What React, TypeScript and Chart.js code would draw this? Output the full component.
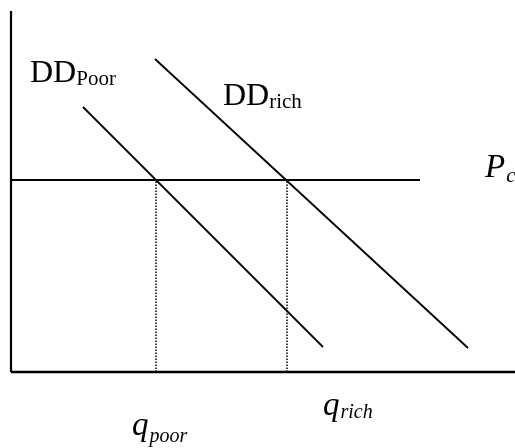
import React, { useEffect, useRef } from "react";
import { Chart, registerables } from "chart.js";

Chart.register(...registerables);

// Quantity (x) and price (y) in chart units, origin at the axes' corner
const axisLimits = { qMax: 504, pMax: 361 };
const priceCeiling = 192; // P_c
const pcLineEnd = 409;
const ddPoorQ = [72, 312];
const ddPoorP = [265, 25];
const ddRichQ = [144, 457];
const ddRichP = [313, 24];
const qPoor = 145;
const qRich = 276;

const labelMain = ["DD", "DD", "P", "q", "q"];
const labelSub = ["Poor", "rich", "c", "poor", "rich"];
const labelQ = [19, 212, 474, 121, 312];
const labelP = [290, 267, 195, -63, -43];

const labelStyle = [
  { italic: false, size: 32, subSize: 21, subDy: 3 },
  { italic: false, size: 32, subSize: 21, subDy: 3 },
  { italic: true, size: 33, subSize: 21, subDy: 5 },
  { italic: true, size: 33, subSize: 20, subDy: 7 },
  { italic: true, size: 33, subSize: 20, subDy: 3 },
];

const pts = (xs: number[], ys: number[]) => xs.map((x, i) => ({ x, y: ys[i] }));

const labelsPlugin = {
  id: "econLabels",
  afterDatasetsDraw(chart: any) {
    const ctx = chart.ctx;
    const xs = chart.scales.x;
    const ys = chart.scales.y;
    ctx.save();
    ctx.fillStyle = "#000";
    ctx.textBaseline = "alphabetic";
    ctx.textAlign = "left";
    labelMain.forEach((m, i) => {
      const st = labelStyle[i];
      const px = xs.getPixelForValue(labelQ[i]);
      const py = ys.getPixelForValue(labelP[i]);
      const fam = '"Liberation Serif", "Times New Roman", serif';
      ctx.font = `${st.italic ? "italic " : ""}${st.size}px ${fam}`;
      ctx.fillText(m, px, py);
      const w = ctx.measureText(m).width;
      ctx.font = `${st.italic ? "italic " : ""}${st.subSize}px ${fam}`;
      ctx.fillText(labelSub[i], px + w + (st.italic ? 1 : 0), py + st.subDy);
    });
    ctx.restore();
  },
};

export default function App() {
  const ref = useRef<HTMLCanvasElement>(null);
  useEffect(() => {
    if (!ref.current) return;
    const line = (data: any[], width: number, dash: number[] = []) => ({
      data,
      borderColor: "#000",
      borderWidth: width,
      borderDash: dash,
      pointRadius: 0,
      showLine: true,
      fill: false,
      tension: 0,
      clip: false as any,
    });
    const chart = new Chart(ref.current, {
      type: "line",
      data: {
        datasets: [
          line(pts([0, 0], [0, axisLimits.pMax]), 2.2),
          line(pts([0, axisLimits.qMax], [0, 0]), 2.6),
          line(pts([0, pcLineEnd], [priceCeiling, priceCeiling]), 2),
          line(pts(ddPoorQ, ddPoorP), 1.8),
          line(pts(ddRichQ, ddRichP), 1.8),
          line(pts([qPoor, qPoor], [0, priceCeiling]), 1.5, [1.5, 1.5]),
          line(pts([qRich, qRich], [0, priceCeiling]), 1.5, [1.5, 1.5]),
        ] as any,
      },
      options: {
        animation: false,
        responsive: false,
        devicePixelRatio: 1,
        layout: { padding: 0 },
        plugins: { legend: { display: false }, tooltip: { enabled: false } },
        scales: {
          x: { type: "linear", min: -11, max: 504, display: false },
          y: { type: "linear", min: -76, max: 372, display: false },
        },
      },
      plugins: [labelsPlugin],
    });
    return () => chart.destroy();
  }, []);
  return (
    <div style={{ position: "fixed", left: 0, top: 0, width: 515, height: 448, background: "#fff" }}>
      <canvas ref={ref} width={515} height={448} />
    </div>
  );
}
